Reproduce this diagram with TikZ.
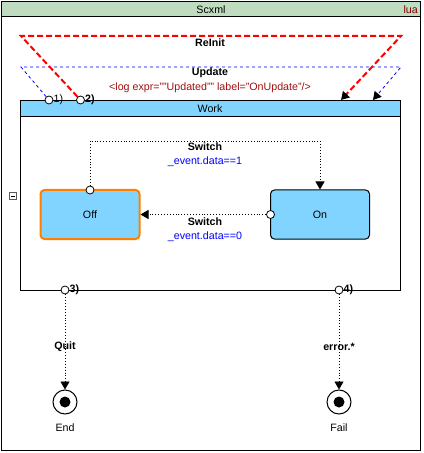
\documentclass[tikz,border=0pt]{standalone}
\usepackage{fontspec}
\setmainfont{Liberation Sans}
\usetikzlibrary{arrows.meta}
\definecolor{hdrgreen}{RGB}{192,220,192}
\definecolor{stateblue}{RGB}{128,212,255}
\definecolor{stateorange}{RGB}{255,128,0}
\definecolor{luared}{RGB}{128,0,0}
\definecolor{logred}{RGB}{160,16,16}
\definecolor{condblue}{RGB}{0,0,255}
\tikzset{
  txt/.style={inner sep=0pt, font=\fontsize{10.67bp}{12bp}\selectfont},
  btxt/.style={txt, font=\fontsize{10.67bp}{12bp}\selectfont\bfseries},
  port/.style={circle, draw=black, fill=white, line width=0.8bp, minimum size=8bp, inner sep=0pt},
  statebox/.style={rectangle, rounded corners=4bp, fill=stateblue, draw=black, line width=1bp, minimum width=99bp, minimum height=49bp, inner sep=0pt, font=\fontsize{10.67bp}{12bp}\selectfont},
  finalst/.style={circle, draw=black, line width=1bp, minimum size=24bp, inner sep=0pt,
     path picture={\fill[black] (path picture bounding box.center) circle (5.5bp);}},
  tip/.style={-{Triangle[length=8bp,width=9bp,color=black]}},
  trans/.style={black, dotted, line width=0.9bp, tip},
  reddash/.style={red, line width=2bp, dash pattern=on 6bp off 3bp, tip},
  bluedash/.style={condblue, line width=0.8bp, dash pattern=on 3bp off 3bp, tip},
}
\begin{document}
\begin{tikzpicture}[x=1bp,y=-1bp]
\useasboundingbox (0,0) rectangle (423,453);
% outer Scxml frame
\fill[white] (0,0) rectangle (423,453);
\fill[hdrgreen] (1.5,1.5) rectangle (420.5,17);
\draw[black, line width=1bp] (1.5,1.5) rectangle (420.5,450.5);
\draw[black, line width=1bp] (1.5,17) -- (420.5,17);
\node[txt] (scxml) at (211,9.5) {Scxml};
\node[txt, text=luared, anchor=east] (lua) at (418,9.5) {lua};
% minus box
\draw[gray!70!black, line width=0.8bp] (9.5,192.5) rectangle (16.5,199.5);
\draw[black, line width=0.8bp] (11,196) -- (15,196);
% Work compound state
\fill[white] (20.5,100.5) rectangle (400.5,290);
\fill[stateblue] (20.5,100.5) rectangle (400.5,117);
\draw[black, line width=1bp] (20.5,100.5) rectangle (400.5,290);
\draw[black, line width=1bp] (20.5,117) -- (400.5,117);
\node[txt] (work) at (210,109) {Work};
% states
\node[statebox, draw=stateorange, line width=2bp] (off) at (90,214.5) {Off};
\node[statebox] (on) at (320,214.5) {On};
% ports
\node[port] (p1) at (49,100) {};
\node[port] (p2) at (80.5,100) {};
\node[port] (p3) at (65,290) {};
\node[port] (p4) at (339,290) {};
\node[port] (poff) at (90,190) {};
\node[port] (pon) at (270.5,214.5) {};
\node[txt, anchor=west] (l1) at (53.5,100) {1)};
\node[btxt, anchor=west] (l2) at (85,100) {2)};
\node[btxt, anchor=west] (l3) at (69.5,290) {3)};
\node[btxt, anchor=west] (l4) at (343.5,290) {4)};
% corner coordinates
\coordinate (rL) at (21,36);
\coordinate (rR) at (401,36);
\coordinate (rA) at (341,100);
\coordinate (bL) at (21,67);
\coordinate (bR) at (401,67);
\coordinate (bA) at (373,100);
\coordinate (k1) at (90,141);
\coordinate (k2) at (320,141);
% top-level transitions
\draw[bluedash] (p1) -- (bL) -- (bR) -- (bA);
\draw[reddash] (p2) -- (rL) -- (rR) -- (rA);
\node[btxt] (reinit) at (210,43) {ReInit};
\node[btxt] (update) at (210,73) {Update};
\node[txt, text=logred] (log) at (210,87.5) {<log expr="{}"Updated"{}" label="OnUpdate"/>};
% inner transitions
\draw[trans] (poff) -- (k1) -- (k2) -- (on.north);
\node[btxt] (sw1) at (205,147) {Switch};
\node[txt, text=condblue] (c1) at (205,162) {\_event.data==1};
\draw[trans] (pon) -- (off.east);
\node[btxt] (sw2) at (205,222) {Switch};
\node[txt, text=condblue] (c2) at (205,237) {\_event.data==0};
% final states
\node[finalst] (end) at (65,402) {};
\node[finalst] (fail) at (339,402) {};
\node[txt] (endl) at (65,428) {End};
\node[txt] (faill) at (339,428) {Fail};
\draw[trans] (p3) -- (end);
\draw[trans] (p4) -- (fail);
\node[btxt] (quit) at (65,347) {Quit};
\node[btxt] (err) at (339,347) {error.*};
\end{tikzpicture}
\end{document}
